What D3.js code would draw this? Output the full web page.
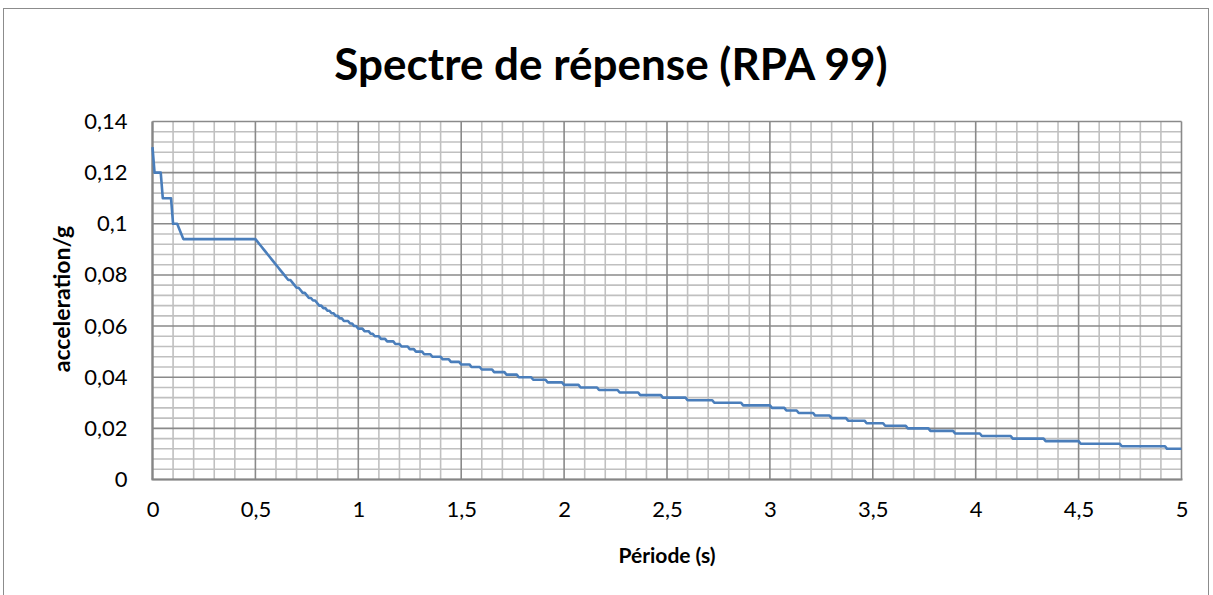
<!DOCTYPE html>
<html>
<head>
<meta charset="utf-8">
<script src="https://cdn.jsdelivr.net/npm/d3@7"></script>
<style>
  html, body { margin: 0; padding: 0; background: #ffffff; }
  svg { display: block; }
</style>
</head>
<body>
<svg id="chart" width="1213" height="595"></svg>
<script>
// ---- Data ----
const chartTitle = "Spectre de répense (RPA 99)";
const xTitle = "Période (s)";
const yTitle = "acceleration/g";

// Period (s) at which each plateau of the stepped spectrum begins
const stepStart = [
  0.00, 0.01, 0.05, 0.10, 0.13, 0.14, 0.15,
  0.51, 0.52, 0.53, 0.54, 0.55, 0.56, 0.57, 0.58, 0.59, 0.60,
  0.61, 0.62, 0.63, 0.64, 0.65, 0.66, 0.68, 0.69, 0.70, 0.72,
  0.73, 0.75, 0.76, 0.78, 0.80, 0.81, 0.83, 0.85, 0.87, 0.89,
  0.91, 0.93, 0.96, 0.98, 1.00, 1.03, 1.06, 1.08, 1.11, 1.14,
  1.18, 1.21, 1.25, 1.28, 1.32, 1.36, 1.41, 1.45, 1.50, 1.55,
  1.60, 1.66, 1.72, 1.78, 1.85, 1.92, 2.00, 2.08, 2.17, 2.27,
  2.37, 2.48, 2.60, 2.73, 2.87, 3.01, 3.08, 3.14, 3.22, 3.30,
  3.38, 3.47, 3.56, 3.67, 3.78, 3.90, 4.03, 4.18, 4.34, 4.51,
  4.71, 4.93
];
// Spectral acceleration (g) on each plateau
const stepValue = [
  0.13, 0.12, 0.11, 0.10, 0.098, 0.096, 0.094,
  0.093, 0.092, 0.091, 0.090, 0.089, 0.088, 0.087, 0.086, 0.085, 0.084,
  0.083, 0.082, 0.081, 0.080, 0.079, 0.078, 0.077, 0.076, 0.075, 0.074,
  0.073, 0.072, 0.071, 0.070, 0.069, 0.068, 0.067, 0.066, 0.065, 0.064,
  0.063, 0.062, 0.061, 0.060, 0.059, 0.058, 0.057, 0.056, 0.055, 0.054,
  0.053, 0.052, 0.051, 0.050, 0.049, 0.048, 0.047, 0.046, 0.045, 0.044,
  0.043, 0.042, 0.041, 0.040, 0.039, 0.038, 0.037, 0.036, 0.035, 0.034,
  0.033, 0.032, 0.031, 0.030, 0.029, 0.028, 0.027, 0.026, 0.025, 0.024,
  0.023, 0.022, 0.021, 0.020, 0.019, 0.018, 0.017, 0.016, 0.015, 0.014,
  0.013, 0.012
];
const lastPeriod = 5.0;
const sampleStep = 0.01;

const xTickValues = [0, 0.5, 1, 1.5, 2, 2.5, 3, 3.5, 4, 4.5, 5];
const xTickLabels = ["0", "0,5", "1", "1,5", "2", "2,5", "3", "3,5", "4", "4,5", "5"];
const yTickValues = [0, 0.02, 0.04, 0.06, 0.08, 0.10, 0.12, 0.14];
const yTickLabels = ["0", "0,02", "0,04", "0,06", "0,08", "0,1", "0,12", "0,14"];
const xMinorStep = 0.1;
const yMinorStep = 0.004;

// ---- Build line vertices from the plateau table ----
const points = [];
for (let i = 0; i < stepStart.length; i++) {
  const s = stepStart[i];
  const e = i < stepStart.length - 1 ? +(stepStart[i + 1] - sampleStep).toFixed(2) : lastPeriod;
  points.push([s, stepValue[i]]);
  if (e > s) points.push([e, stepValue[i]]);
}

// ---- Layout ----
const svg = d3.select("#chart");
const plot = { left: 152.5, right: 1181.5, top: 121.5, bottom: 479.5 };

const x = d3.scaleLinear().domain([0, 5]).range([plot.left, plot.right]);
const y = d3.scaleLinear().domain([0, 0.14]).range([plot.bottom, plot.top]);

const FONT = "Lato, 'Open Sans', 'DejaVu Sans', sans-serif";

// chart frame
svg.append("rect")
  .attr("x", 3.5).attr("y", 8.5)
  .attr("width", 1205).attr("height", 620)
  .attr("fill", "#ffffff")
  .attr("stroke", "#8c8c8c").attr("stroke-width", 1);

// minor gridlines
const xMinor = d3.range(0, 5 + 1e-9, xMinorStep).filter(v => Math.abs(v / 0.5 - Math.round(v / 0.5)) > 1e-6);
const yMinor = d3.range(0, 0.14 + 1e-9, yMinorStep).filter(v => Math.abs(v / 0.02 - Math.round(v / 0.02)) > 1e-6);

const grid = svg.append("g");
grid.selectAll("line.xminor").data(xMinor).join("line")
  .attr("x1", d => x(d)).attr("x2", d => x(d))
  .attr("y1", plot.top).attr("y2", plot.bottom)
  .attr("stroke", "#c0c0c0").attr("stroke-width", 1.6);
grid.selectAll("line.yminor").data(yMinor).join("line")
  .attr("x1", plot.left).attr("x2", plot.right)
  .attr("y1", d => y(d)).attr("y2", d => y(d))
  .attr("stroke", "#c0c0c0").attr("stroke-width", 1.6);

// major gridlines
grid.selectAll("line.xmajor").data(xTickValues).join("line")
  .attr("x1", d => x(d)).attr("x2", d => x(d))
  .attr("y1", plot.top).attr("y2", plot.bottom)
  .attr("stroke", "#8a8a8a").attr("stroke-width", 1.6);
grid.selectAll("line.ymajor").data(yTickValues).join("line")
  .attr("x1", plot.left).attr("x2", plot.right)
  .attr("y1", d => y(d)).attr("y2", d => y(d))
  .attr("stroke", "#8a8a8a").attr("stroke-width", 1.6);

// axes (labels only; axis lines drawn separately)
const xAxis = d3.axisBottom(x)
  .tickValues(xTickValues)
  .tickFormat((d, i) => xTickLabels[i])
  .tickSize(0).tickPadding(22);
const gx = svg.append("g").attr("transform", `translate(0,${plot.bottom})`).call(xAxis);
gx.select(".domain").remove();
gx.selectAll("text").attr("font-family", FONT).attr("font-size", 22).attr("fill", "#000");

const yAxis = d3.axisLeft(y)
  .tickValues(yTickValues)
  .tickFormat((d, i) => yTickLabels[i])
  .tickSize(0).tickPadding(25);
const gy = svg.append("g").attr("transform", `translate(${plot.left},0)`).call(yAxis);
gy.select(".domain").remove();
gy.selectAll("text").attr("font-family", FONT).attr("font-size", 22).attr("fill", "#000");

// axis lines
svg.append("line")
  .attr("x1", plot.left - 1).attr("x2", plot.right + 1)
  .attr("y1", plot.bottom).attr("y2", plot.bottom)
  .attr("stroke", "#868686").attr("stroke-width", 2.2);
svg.append("line")
  .attr("x1", plot.left).attr("x2", plot.left)
  .attr("y1", plot.top).attr("y2", plot.bottom)
  .attr("stroke", "#868686").attr("stroke-width", 2.2);

// data line
const line = d3.line().x(d => x(d[0])).y(d => y(d[1]));
svg.append("path")
  .datum(points)
  .attr("d", line)
  .attr("fill", "none")
  .attr("stroke", "#4a7ebb")
  .attr("stroke-width", 2.6)
  .attr("stroke-linejoin", "round");

// titles
svg.append("text")
  .attr("x", 611).attr("y", 80)
  .attr("text-anchor", "middle")
  .attr("font-family", FONT).attr("font-weight", "bold").attr("font-size", 44)
  .text(chartTitle);

svg.append("text")
  .attr("x", (plot.left + plot.right) / 2).attr("y", 563)
  .attr("text-anchor", "middle")
  .attr("font-family", FONT).attr("font-weight", "bold").attr("font-size", 21)
  .text(xTitle);

svg.append("text")
  .attr("transform", "translate(70,299) rotate(-90)")
  .attr("text-anchor", "middle")
  .attr("font-family", FONT).attr("font-weight", "bold").attr("font-size", 23)
  .text(yTitle);
</script>
</body>
</html>
